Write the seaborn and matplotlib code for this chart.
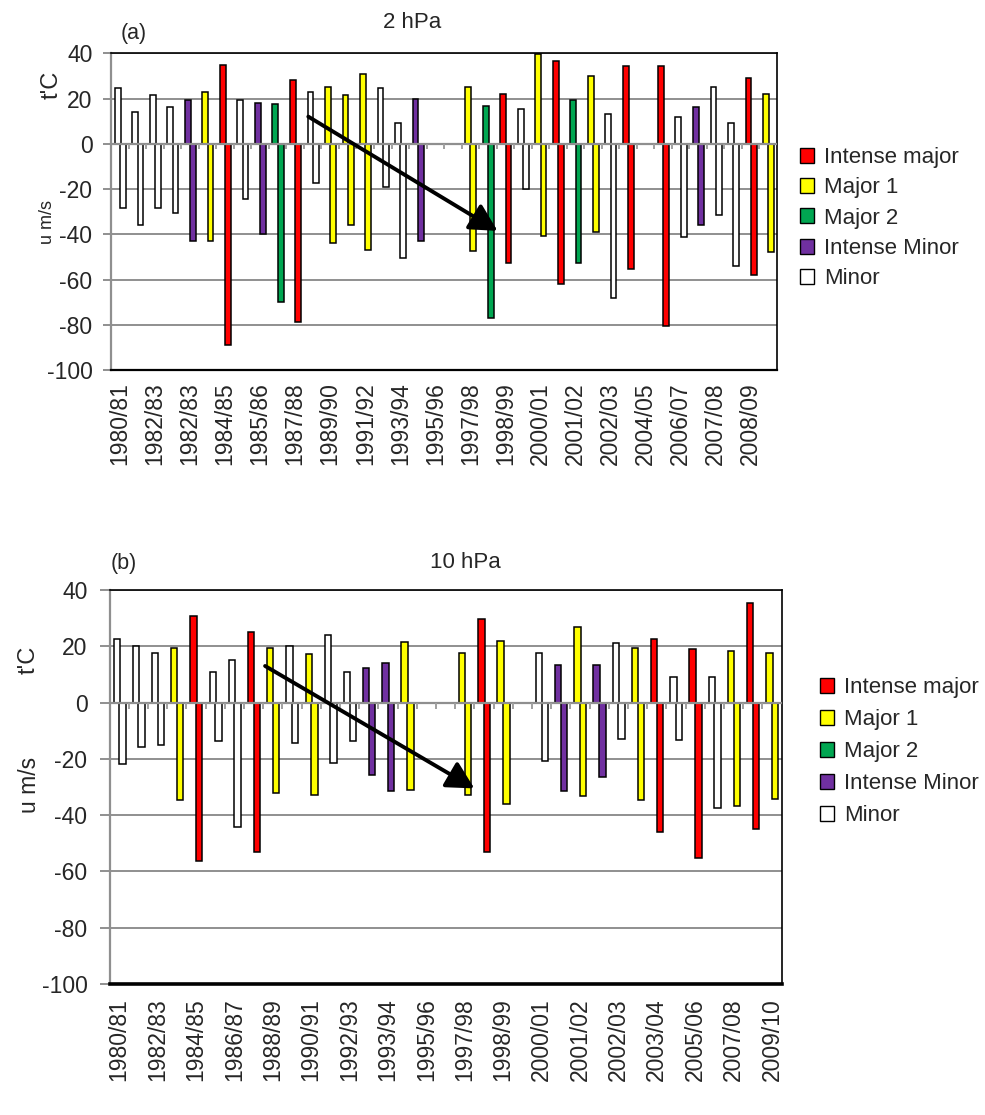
import numpy as np
import pandas as pd
import matplotlib
matplotlib.use('Agg')
import matplotlib.pyplot as plt
import seaborn as sns
from matplotlib.patches import Patch

sns.set_theme(style='white')
plt.rcParams['font.family'] = ['Liberation Sans', 'DejaVu Sans']
plt.rcParams['axes.unicode_minus'] = False

# ---------------- data ----------------
class_names = ['Intense major', 'Major 1', 'Major 2', 'Intense Minor', 'Minor']
class_colors = ['#FF0000', '#FFFF00', '#00A651', '#7030A0', '#FFFFFF']

# Panel (a): 2 hPa  (one entry per event; None = empty slot)
cls_a = ['Minor', 'Minor', 'Minor', 'Minor', 'Intense Minor', 'Major 1', 'Intense major',
         'Minor', 'Intense Minor', 'Major 2', 'Intense major', 'Minor', 'Major 1', 'Major 1',
         'Major 1', 'Minor', 'Minor', 'Intense Minor', None, None, 'Major 1', 'Major 2',
         'Intense major', 'Minor', 'Major 1', 'Intense major', 'Major 2', 'Major 1', 'Minor',
         'Intense major', None, 'Intense major', 'Minor', 'Intense Minor', 'Minor', 'Minor',
         'Intense major', 'Major 1']
t_a = [24.5, 13.9, 21.7, 16.2, 19.2, 22.9, 35.0, 19.2, 18.2, 17.6, 28.3, 22.9, 25.3, 21.7,
       30.8, 24.5, 9.1, 20.0, np.nan, np.nan, 25.3, 16.8, 22.2, 15.5, 39.7, 36.7, 19.2, 30.0,
       13.2, 34.4, np.nan, 34.4, 12.0, 16.2, 25.3, 9.1, 29.1, 22.2]
u_a = [-28.4, -35.7, -28.4, -30.8, -42.9, -42.9, -88.8, -24.3, -40.0, -69.8, -78.7, -17.2,
       -44.0, -36.0, -46.9, -19.3, -50.5, -42.9, np.nan, np.nan, -47.6, -77.2, -52.7, -20.2,
       -40.7, -62.2, -52.7, -38.8, -68.3, -55.2, np.nan, -80.7, -41.0, -35.7, -31.5, -54.2,
       -58.1, -48.0]
ticks_a = ['1980/81', '1982/83', '1982/83', '1984/85', '1985/86', '1987/88', '1989/90',
           '1991/92', '1993/94', '1995/96', '1997/98', '1998/99', '2000/01', '2001/02',
           '2002/03', '2004/05', '2006/07', '2007/08', '2008/09']

# Panel (b): 10 hPa
cls_b = ['Minor', 'Minor', 'Minor', 'Major 1', 'Intense major', 'Minor', 'Minor',
         'Intense major', 'Major 1', 'Minor', 'Major 1', 'Minor', 'Minor', 'Intense Minor',
         'Intense Minor', 'Major 1', None, None, 'Major 1', 'Intense major', 'Major 1', None,
         'Minor', 'Intense Minor', 'Major 1', 'Intense Minor', 'Minor', 'Major 1',
         'Intense major', 'Minor', 'Intense major', 'Minor', 'Major 1', 'Intense major',
         'Major 1']
t_b = [22.6, 20.2, 17.5, 19.4, 30.9, 10.9, 15.2, 25.1, 19.3, 20.2, 17.4, 23.9, 11.0, 12.2,
       14.2, 21.5, np.nan, np.nan, 17.5, 29.7, 22.0, np.nan, 17.5, 13.3, 27.0, 13.3, 21.3,
       19.4, 22.6, 9.0, 19.0, 9.0, 18.4, 35.3, 17.5]
u_b = [-21.9, -15.7, -15.0, -34.6, -56.2, -13.8, -44.2, -53.0, -32.2, -14.3, -32.8, -21.3,
       -13.8, -25.8, -31.5, -30.9, np.nan, np.nan, -32.8, -53.0, -36.2, np.nan, -20.7, -31.4,
       -33.2, -26.5, -13.1, -34.6, -46.0, -13.2, -55.4, -37.6, -36.7, -45.0, -34.2]
ticks_b = ['1980/81', '1982/83', '1984/85', '1986/87', '1988/89', '1990/91', '1992/93',
           '1993/94', '1995/96', '1997/98', '1998/99', '2000/01', '2001/02', '2002/03',
           '2003/04', '2005/06', '2007/08', '2009/10']

# trend arrows (category position, value)
arrow_a = ((10.75, 12.0), (21.55, -38.5))
arrow_b = ((7.6, 13.0), (18.5, -30.5))

yticks = [40, 20, 0, -20, -40, -60, -80, -100]

# ---------------- drawing ----------------
W, H = 985, 1115
fig = plt.figure(figsize=(W / 100, H / 100), dpi=100)
palette = dict(zip(class_names, class_colors))
GRID = '#8f8f8f'


def fx(px):
    return px / W


def fy(py):
    return 1 - py / H


def panel(rect, cls, t, u, ticks, arrow, bottom_lw, pad, ytlen, ypad):
    ax = fig.add_axes(rect)
    n = len(cls)
    df = pd.DataFrame({'idx': np.arange(n), 'cls': cls, 't': t, 'u': u}).dropna()
    df['xt'] = df['idx'] - 0.13
    df['xu'] = df['idx'] + 0.17
    for col_x, col_y in (('xt', 't'), ('xu', 'u')):
        sns.barplot(data=df, x=col_x, y=col_y, hue='cls', hue_order=class_names,
                    palette=palette, dodge=False, native_scale=True, width=0.33,
                    saturation=1, edgecolor='black', linewidth=1.1, errorbar=None,
                    legend=False, ax=ax)
    ax.set_xlim(-0.5, n - 0.5)
    ax.set_ylim(-100, 40)
    ax.set_axisbelow(True)
    ax.set_yticks(yticks)
    ax.set_yticklabels([str(v) for v in yticks], fontsize=16.5)
    ax.yaxis.grid(True, color=GRID, lw=1.4)
    ax.xaxis.grid(False)
    ax.axhline(0, color=GRID, lw=1.6, zorder=3)
    ax.vlines(np.arange(n - 1) + 0.5, -2.2, 0, color='#a0a0a0', lw=1.4, zorder=3)
    ax.set_xticks(np.arange(0, n, 2))
    ax.set_xticklabels(ticks, rotation=90, fontsize=16.5)
    ax.tick_params(axis='x', length=0, pad=pad)
    ax.tick_params(axis='y', length=ytlen, width=1.4, color=GRID, direction='out', pad=ypad,
                   left=True)
    ax.set_xlabel('')
    ax.set_ylabel('')
    for s in ('top', 'right'):
        ax.spines[s].set_color('black')
        ax.spines[s].set_linewidth(1.2)
    ax.spines['bottom'].set_color('black')
    ax.spines['bottom'].set_linewidth(bottom_lw)
    ax.spines['left'].set_color(GRID)
    ax.spines['left'].set_linewidth(1.6)
    ax.annotate('', xy=arrow[1], xytext=arrow[0],
                arrowprops=dict(arrowstyle='-|>,head_length=0.75,head_width=0.4',
                                color='black', lw=2.8, mutation_scale=22,
                                shrinkA=0, shrinkB=0), zorder=6)
    return ax


ax_a = panel([fx(111.2), fy(370), (777 - 111.2) / W, (370 - 53.3) / H],
             cls_a, t_a, u_a, ticks_a, arrow_a, 1.6, 9, 5.5, 8)
ax_b = panel([fx(109.6), fy(984), (781.5 - 109.6) / W, (984 - 590) / H],
             cls_b, t_b, u_b, ticks_b, arrow_b, 2.6, 10, 7, 9)

handles = [Patch(facecolor=c, edgecolor='black', linewidth=1.0) for c in class_colors]
for ax, (lx, ly), sp in ((ax_a, (800, 147), 0.42), (ax_b, (820, 677), 0.5)):
    ax.legend(handles, class_names, loc='upper left', bbox_to_anchor=(fx(lx), fy(ly)),
              bbox_transform=fig.transFigure, frameon=False, fontsize=16,
              handlelength=0.65, handleheight=0.65, handletextpad=0.45,
              labelspacing=sp, borderpad=0, borderaxespad=0)

# titles and axis captions
fig.text(fx(121), fy(33), '(a)', ha='left', va='center', fontsize=15.5)
fig.text(fx(412), fy(22), '2 hPa', ha='center', va='center', fontsize=16)
fig.text(fx(111), fy(564), '(b)', ha='left', va='center', fontsize=15.5)
fig.text(fx(465), fy(562), '10 hPa', ha='center', va='center', fontsize=16)
fig.text(fx(52), fy(85), "t'C", rotation=90, ha='center', va='center', fontsize=17)
fig.text(fx(47), fy(222), 'u m/s', rotation=90, ha='center', va='center', fontsize=13)
fig.text(fx(29), fy(660), "t'C", rotation=90, ha='center', va='center', fontsize=17)
fig.text(fx(29), fy(785), 'u m/s', rotation=90, ha='center', va='center', fontsize=16.5)

fig.savefig('out.png', dpi=100)
